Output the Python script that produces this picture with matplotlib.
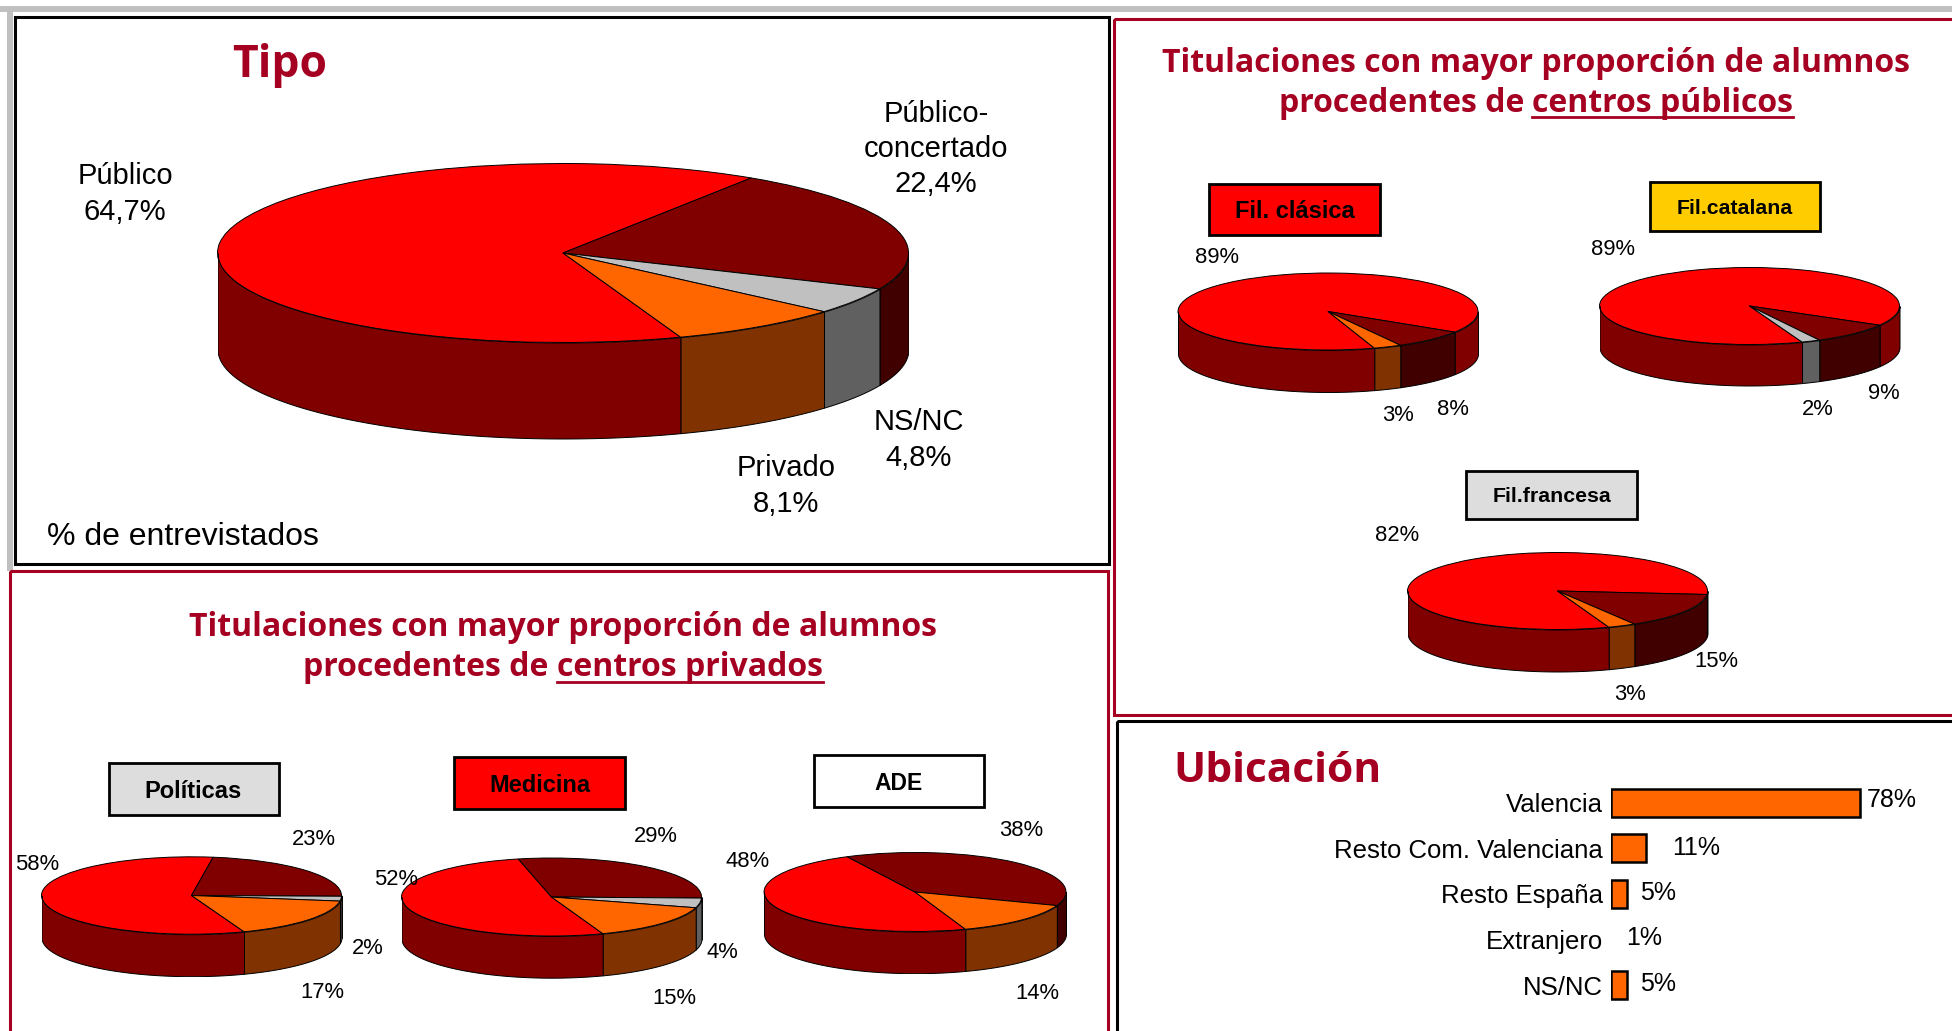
import numpy as np
import matplotlib
matplotlib.use('Agg')
import matplotlib.pyplot as plt
from matplotlib.patches import Rectangle

W, H = 1952, 1031

# slice order, clockwise: publico, concertado, ns/nc, privado
tipo = [64.7, 22.4, 4.8, 8.1]
clasica = [89, 8, 0, 3]
catalana = [89, 9, 2, 0]
francesa = [82, 15, 0, 3]
politicas = [58, 23, 2, 17]
medicina = [52, 29, 4, 15]
ade = [48, 38, 0, 14]

ubic_cats = ['Valencia', 'Resto Com. Valenciana', 'Resto España', 'Extranjero', 'NS/NC']
ubic_vals = [78, 11, 5, np.nan, 5]  # Extranjero has no bar in the original
ubic_text = ['78%', '11%', '5%', '1%', '5%']

top_colors = ['#FF0000', '#800000', '#C0C0C0', '#FF6600']
wall_colors = ['#800000', '#400000', '#606060', '#803300']

CRIMSON = '#A50021'
TITLE_FONT = 'Open Sans'
FONT = 'Liberation Sans'

fig = plt.figure(figsize=(W / 100, H / 100), dpi=100, facecolor='white')

# overlay in pixel coordinates for panels and texts
ax = fig.add_axes([0, 0, 1, 1], zorder=10)
ax.set_xlim(0, W)
ax.set_ylim(H, 0)
ax.axis('off')


def panel(x0, y0, x1, y1, color, lw=2.2):
    ax.add_patch(Rectangle((x0, y0), x1 - x0, y1 - y0, fc='none', ec=color, lw=lw))


def pie3d(cx, cy, rx, ry, depth, values, start):
    pos = [(cx - rx) / W, 1 - (cy + ry + depth) / H, 2 * rx / W, (2 * ry + depth) / H]
    a = fig.add_axes(pos)
    keep = [i for i, v in enumerate(values) if v > 0]
    vals = [values[i] for i in keep]
    a.pie(vals, colors=[top_colors[i] for i in keep], startangle=start, counterclock=False,
          wedgeprops=dict(edgecolor='black', linewidth=0.7))
    a.set_aspect('auto')
    a.set_xlim(-1, 1)
    a.set_ylim(-1 - depth / ry, 1)
    d = depth / ry
    t0 = start
    for i in keep:
        t1 = t0 - values[i] * 3.6
        # only the front half of the rim is visible
        for base in (0, -360):
            lo, hi = max(t1, base - 180), min(t0, base)
            if lo < hi:
                th = np.radians(np.linspace(lo, hi, 120))
                a.fill_between(np.cos(th), np.sin(th), np.sin(th) - d,
                               facecolor=wall_colors[i], edgecolor='black', linewidth=0.7)
        t0 = t1


def small(x, y, s):
    ax.text(x, y + 1.5, s, ha='center', va='center', family=FONT, fontsize=15.8, color='black')


def big(x, y, s):
    ax.text(x, y + 2, s, ha='center', va='center', family=FONT, fontsize=21, color='black',
            linespacing=1.34)


def box(x0, y0, x1, y1, color, s, size):
    ax.add_patch(Rectangle((x0, y0), x1 - x0, y1 - y0, fc=color, ec='black', lw=2))
    ax.text((x0 + x1) / 2, (y0 + y1) / 2 + 2, s, ha='center', va='center', family=FONT,
            fontweight='bold', fontsize=size, color='black')


def title(cx, y1, y2, line1, prefix, under):
    kw = dict(va='center', family=TITLE_FONT, fontweight='bold', fontsize=23, color=CRIMSON)
    ax.text(cx, y1, line1, ha='center', **kw)
    r = fig.canvas.get_renderer()

    def width(s):
        t = ax.text(0, 0, s, **kw)
        w = t.get_window_extent(r).width
        t.remove()
        return w

    total = width(prefix + under)
    u = width(under)
    x0 = cx - total / 2
    ax.text(x0, y2, prefix, ha='left', **kw)
    ax.text(x0 + total - u, y2, under, ha='left', **kw)
    ax.plot([x0 + total - u, x0 + total], [y2 + 14, y2 + 14], color=CRIMSON, lw=2)


# frame
ax.add_patch(Rectangle((0, 6), W, 6, fc='#C0C0C0', ec='none'))
ax.add_patch(Rectangle((7, 6), 6, 565, fc='#C0C0C0', ec='none'))
panel(15, 17, 1109, 564, 'black')
panel(10, 571, 1108, H + 10, CRIMSON)
panel(1114, 19, W + 10, 715, CRIMSON)
panel(1117, 721, W + 10, H + 10, 'black')

# Tipo
ax.text(280, 65, 'Tipo', ha='center', va='center', family=TITLE_FONT, fontweight='bold',
        fontsize=32, color=CRIMSON)
pie3d(563, 253, 345.5, 89.5, 96, tipo, -70.1)
big(125, 192, 'Público\n64,7%')
big(936, 147, 'Público-\nconcertado\n22,4%')
big(919, 438, 'NS/NC\n4,8%')
big(786, 484, 'Privado\n8,1%')
ax.text(47, 537, '% de entrevistados', ha='left', va='center', family=FONT, fontsize=23)

# centros publicos
title(1536, 63, 103, 'Titulaciones con mayor proporción de alumnos', 'procedentes de ', 'centros públicos')
box(1209, 184, 1380, 235, '#FF0000', 'Fil. clásica', 17)
pie3d(1328, 311.5, 150, 38.5, 42, clasica, -72)
small(1217, 256, '89%')
small(1398, 414, '3%')
small(1453, 408, '8%')
box(1650, 182, 1820, 231, '#FFCC00', 'Fil.catalana', 15.3)
pie3d(1749.5, 306, 150, 38.5, 41, catalana, -69.5)
small(1613, 248, '89%')
small(1818, 408, '2%')
small(1884, 392, '9%')
box(1466, 471, 1637, 519, '#DDDDDD', 'Fil.francesa', 15.3)
pie3d(1557.5, 591, 150, 38.5, 42, francesa, -70)
small(1397, 534, '82%')
small(1716, 660, '15%')
small(1630, 693, '3%')

# centros privados
title(563, 628, 668, 'Titulaciones con mayor proporción de alumnos', 'procedentes de ', 'centros privados')
box(108.5, 763, 278.5, 815, '#DDDDDD', 'Políticas', 17)
pie3d(191.5, 895.5, 150, 38.7, 42, politicas, -69.5)
small(37, 863, '58%')
small(314, 838, '23%')
small(368, 947, '2%')
small(322, 991, '17%')
box(454, 757, 625, 809, '#FF0000', 'Medicina', 17)
pie3d(551.5, 897, 150, 39, 41.7, medicina, -70)
small(396, 878, '52%')
small(656, 835, '29%')
small(722, 951, '4%')
small(674, 997, '15%')
box(813.5, 755, 984, 807, 'white', 'ADE', 16.5)
pie3d(915, 892, 151, 39.5, 41.7, ade, -70.5)
small(748, 860, '48%')
small(1021, 829, '38%')
small(1037, 992, '14%')

# Ubicacion
ax.text(1173, 771, 'Ubicación', ha='left', va='center', family=TITLE_FONT, fontweight='bold',
        fontsize=30.6, color=CRIMSON)
bar_ax = fig.add_axes([1611 / W, 1 - 1008 / H, 319 / W, 228 / H])
y = np.arange(len(ubic_cats))
bar_ax.barh(y, ubic_vals, height=0.61, color='#FF6600', edgecolor='black', linewidth=1.8)
bar_ax.set_xlim(0, 100)
bar_ax.set_ylim(4.5, -0.5)
bar_ax.set_yticks(y)
bar_ax.set_yticklabels(ubic_cats, family=FONT, fontsize=18.5)
bar_ax.set_xticks([])
bar_ax.tick_params(axis='y', length=0, pad=6)
bar_ax.patch.set_visible(False)
for s in bar_ax.spines.values():
    s.set_visible(False)
for txt, x_left, y_mid in zip(ubic_text, [1867, 1672, 1640, 1626, 1640], [800, 848, 893, 938, 984]):
    ax.text(x_left, y_mid, txt, ha='left', va='center', family=FONT, fontsize=18)

fig.savefig('out.png', dpi=100)
